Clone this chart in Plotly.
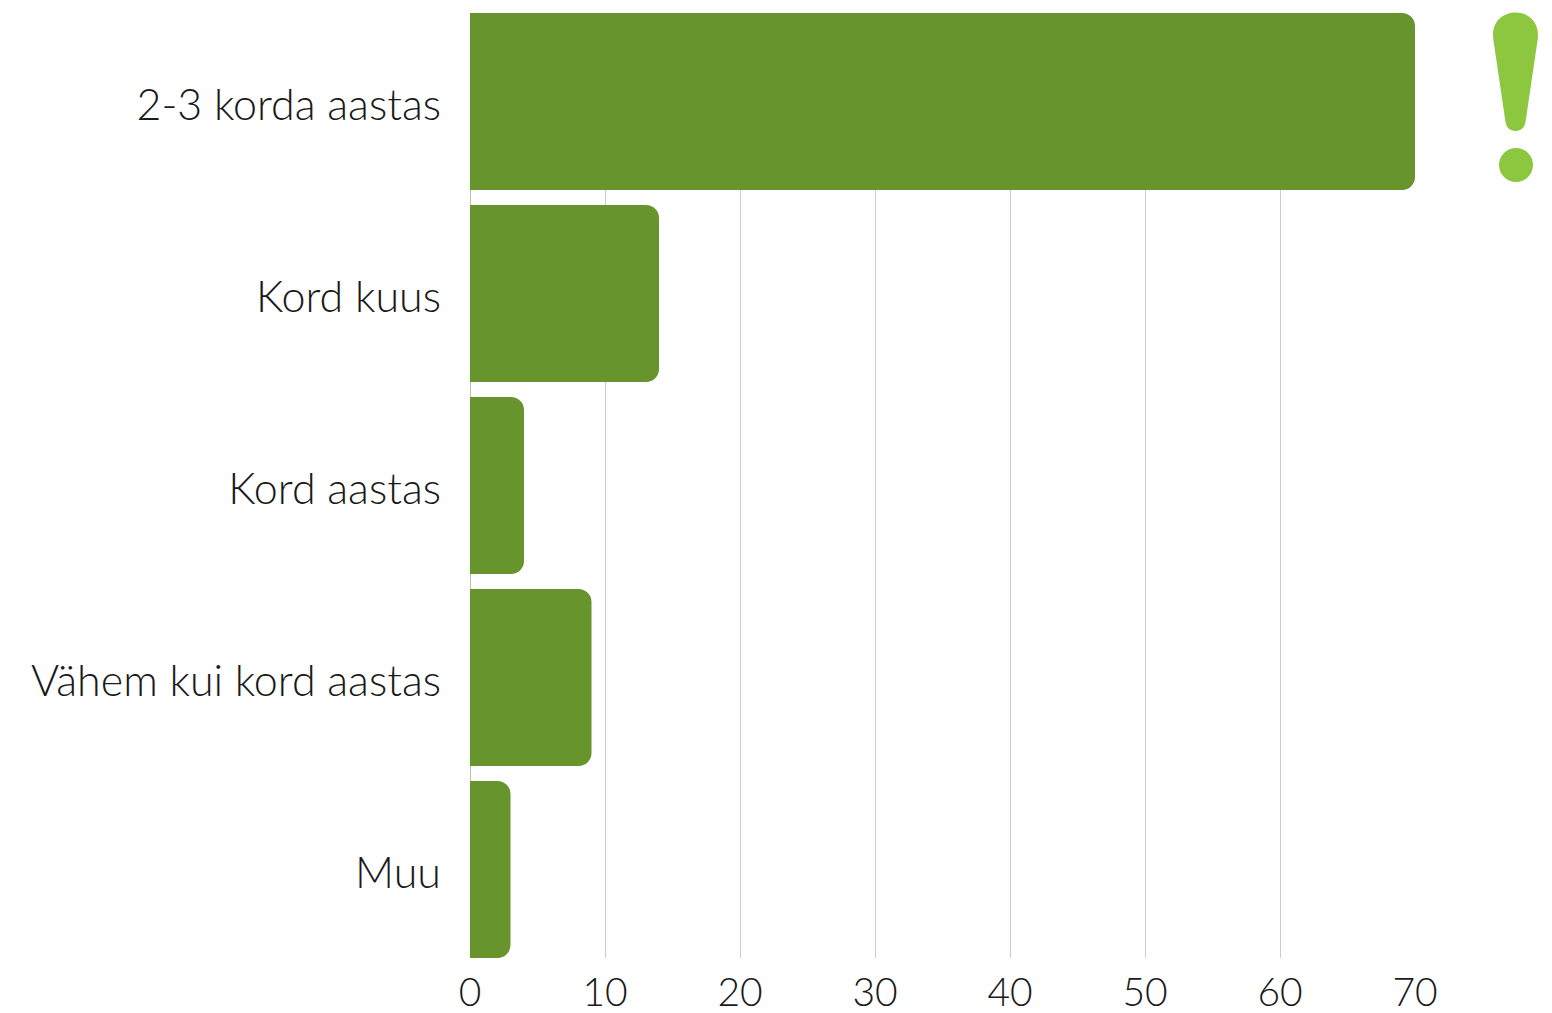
import plotly.graph_objects as go

categories = ["2-3 korda aastas", "Kord kuus", "Kord aastas", "Vähem kui kord aastas", "Muu"]
values = [70, 14, 4, 9, 3]
x_ticks = [0, 10, 20, 30, 40, 50, 60, 70]

W, H = 1552, 1013
L, R, T, B = 470, 1415, 13, 958


def px(x):
    return (x - L) / (R - L)


def py(y):
    return (B - y) / (B - T)


def pt(x, y):
    return f"{px(x):.5f},{py(y):.5f}"


drop = (
    f"M{pt(1493, 35)} "
    f"C{pt(1493, 5)} {pt(1538, 5)} {pt(1538, 35)} "
    f"C{pt(1538, 38)} {pt(1537.5, 41)} {pt(1537, 44)} "
    f"L{pt(1525.5, 122)} "
    f"C{pt(1524, 134)} {pt(1507, 134)} {pt(1505.5, 122)} "
    f"L{pt(1494, 44)} "
    f"C{pt(1493.5, 41)} {pt(1493, 38)} {pt(1493, 35)} Z"
)

fig = go.Figure(
    go.Bar(
        x=values,
        y=categories,
        orientation="h",
        marker=dict(color="#67942D", line=dict(width=0)),
        hoverinfo="x+y",
    )
)

fig.update_layout(
    width=W,
    height=H,
    autosize=False,
    margin=dict(l=L, r=W - R, t=T, b=H - B, pad=0, autoexpand=False),
    paper_bgcolor="white",
    plot_bgcolor="white",
    bargap=0.078,
    barcornerradius=13,
    showlegend=False,
    font=dict(family="Lato", color="#1A1A1A", size=39),
    shapes=[
        dict(type="path", xref="paper", yref="paper", path=drop,
             fillcolor="#8DC63F", line=dict(width=0), layer="above"),
        dict(type="circle", xref="paper", yref="paper",
             x0=px(1499), x1=px(1533), y0=py(182), y1=py(148),
             fillcolor="#8DC63F", line=dict(width=0), layer="above"),
    ],
)
fig.update_xaxes(
    automargin=False,
    range=[0, 70],
    tickvals=x_ticks,
    showgrid=True,
    gridcolor="#CCCCCC",
    gridwidth=1,
    zeroline=True,
    zerolinecolor="#BBBBBB",
    zerolinewidth=1,
    showline=False,
    ticks="",
    ticklabelstandoff=8,
    tickfont=dict(size=39, family="Lato", weight=300),
)
fig.update_yaxes(
    automargin=False,
    categoryorder="array",
    categoryarray=categories,
    range=[4.461, -0.461],
    showgrid=False,
    showline=False,
    zeroline=False,
    ticks="",
    ticklabelstandoff=28,
    ticklabelshift=-3,
    tickfont=dict(size=43, family="Lato", weight=300),
)

fig.write_html("out.html", config={"displayModeBar": False},
               post_script="document.body.style.margin='0';document.body.style.overflow='hidden';")
